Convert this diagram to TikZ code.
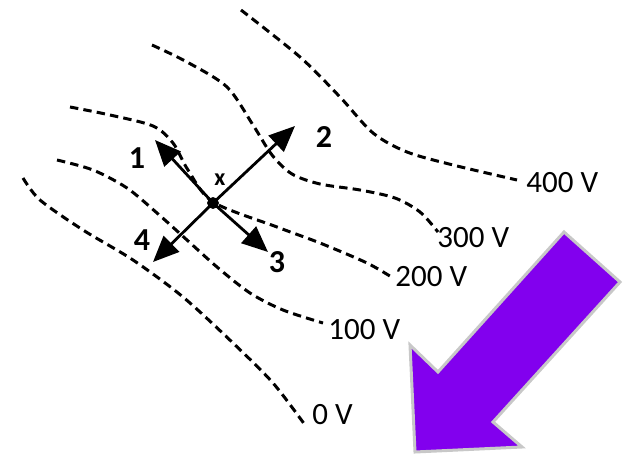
\documentclass[tikz,border=0pt]{standalone}
\usepackage{fontspec}
\setmainfont{Carlito}
\usetikzlibrary{arrows.meta}
\definecolor{fieldviolet}{RGB}{130,0,238}
\definecolor{edgegrey}{RGB}{200,200,200}

\begin{document}
\begin{tikzpicture}
[
	x=0.5pt,
	y=-0.5pt,
	equip/.style={line width=1.5pt, dash pattern=on 4.2pt off 2.6pt},
	vlabel/.style={anchor=west, inner sep=1pt, font=\fontsize{15.5}{18}\selectfont},
	dirarrow/.style={line width=1.4pt, -{Triangle[length=13pt,width=11pt]}},
	numlabel/.style={inner sep=0pt, font=\bfseries\fontsize{16}{18}\selectfont},
	closedpt/.style={circle,draw,fill,inner sep=0pt,minimum size=5.5pt}
]

	\useasboundingbox (0,0) rectangle (627,455);

	% equipotential lines
	\draw[equip] plot[smooth] coordinates {(241,10) (300,57) (340,97) (373,133) (407,152) (453,165) (517,180)};
	\draw[equip] plot[smooth] coordinates {(152,45) (187,62) (227,87) (253,125) (272,155) (292,174) (320,184) (360,190) (395,198) (420,212) (438,232)};
	\draw[equip] plot[smooth] coordinates {(70,107) (110,115) (153,126) (173,143) (188,170) (213,202) (277,227) (320,243) (367,263) (393,278)};
	\draw[equip] plot[smooth] coordinates {(57,160) (93,170) (127,188) (157,213) (187,240) (217,267) (250,293) (283,310) (323,323)};
	\draw[equip] plot[smooth] coordinates {(23,178) (40,200) (83,230) (133,260) (183,297) (233,343) (273,383) (305,425)};

	\node[vlabel] at (524,183) (v400) {400 V};
	\node[vlabel] at (435,238) (v300) {300 V};
	\node[vlabel] at (393,277) (v200) {200 V};
	\node[vlabel] at (326,330) (v100) {100 V};
	\node[vlabel] at (310,415) (v0) {0 V};

	% point x and the four directions
	\node[closedpt] at (213,203) (ptx) {};
	\node[inner sep=0pt, font=\bfseries\fontsize{12}{14}\selectfont] at (220,180) (lblx) {x};

	\coordinate (tip1) at (155,140);
	\coordinate (tip2) at (295,126);
	\coordinate (tip3) at (268,252);
	\coordinate (tip4) at (153,262);

	\draw[dirarrow] (ptx.center) -- (tip1);
	\draw[dirarrow] (ptx.center) -- (tip2);
	\draw[dirarrow] (ptx.center) -- (tip3);
	\draw[dirarrow] (ptx.center) -- (tip4);

	\node[numlabel] at (137,158) (n1) {1};
	\node[numlabel] at (324,137) (n2) {2};
	\node[numlabel] at (277,262) (n3) {3};
	\node[numlabel] at (142,240) (n4) {4};

	% field direction
	\draw[fill=fieldviolet, draw=edgegrey, line width=1.5pt, line join=miter]
		(564,232) -- (620,282) -- (493,422) -- (522,447) -- (415,452) -- (410,345) -- (438,372) -- cycle;

\end{tikzpicture}
\end{document}
